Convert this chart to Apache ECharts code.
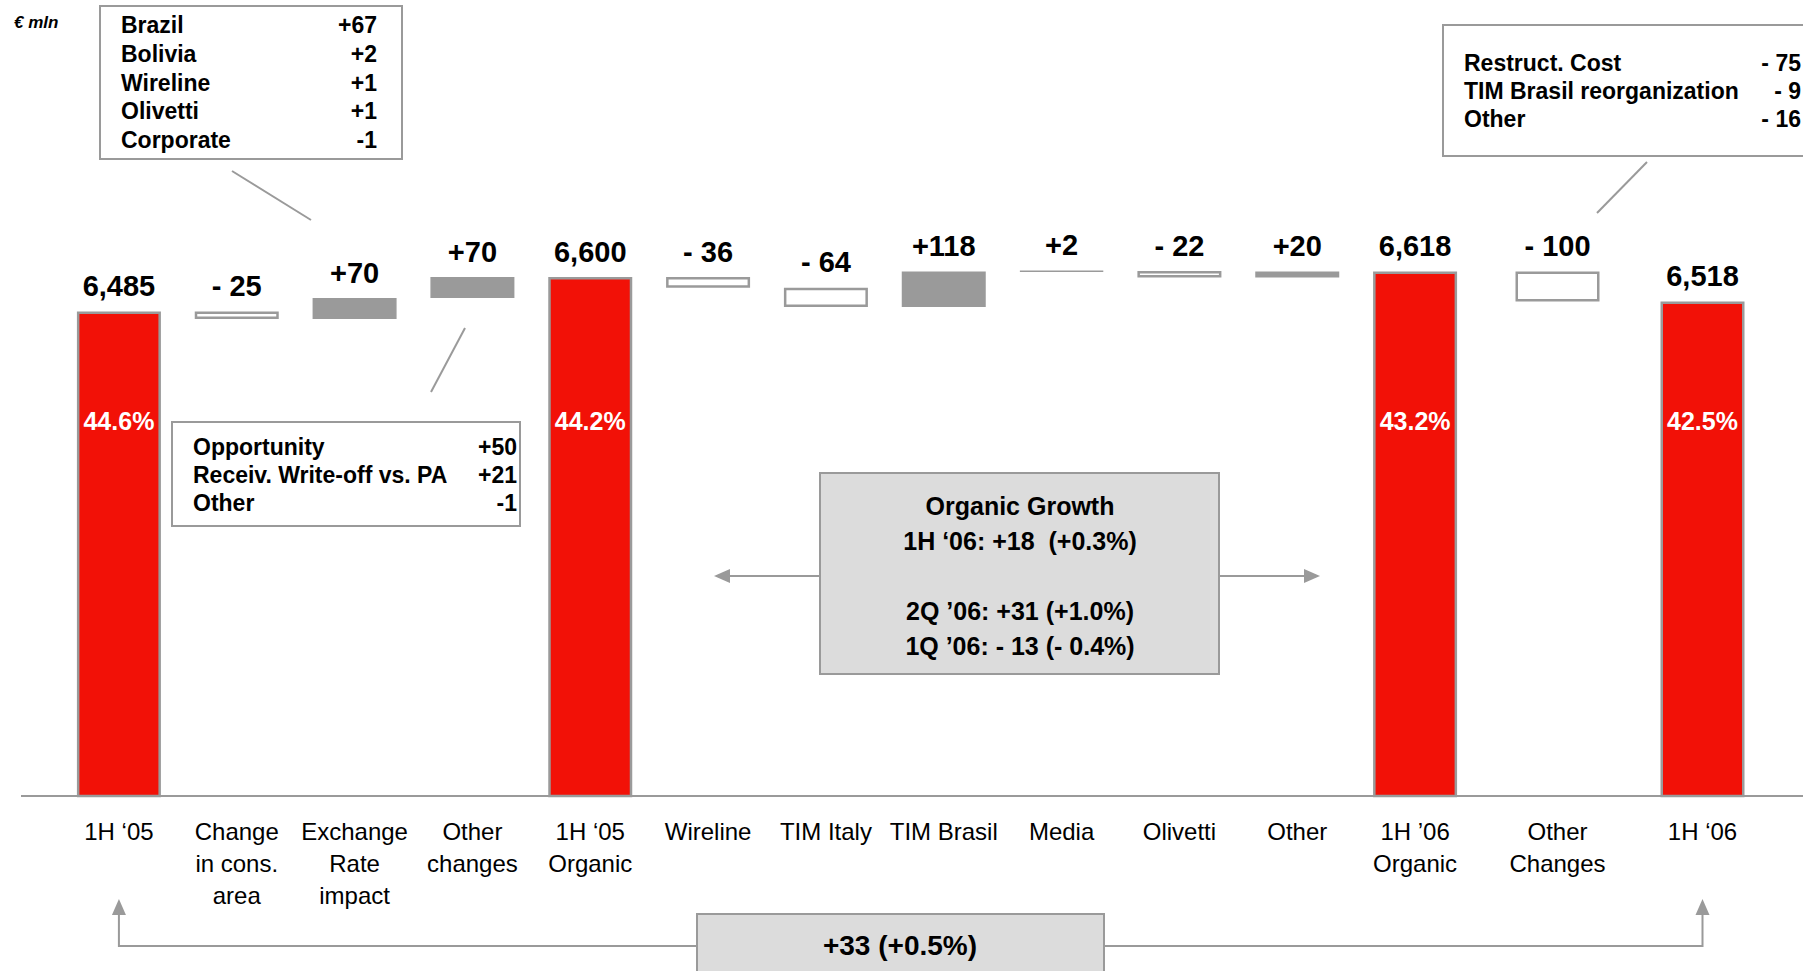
<!DOCTYPE html>
<html>
<head>
<meta charset="utf-8">
<script src="https://cdn.jsdelivr.net/npm/echarts@6/dist/echarts.min.js"></script>
<style>
html,body{margin:0;padding:0;background:#fff;}
#c{width:1803px;height:971px;}
</style>
</head>
<body>
<div id="c"></div>
<script>
// ---- data ----
const categories = ['1H ‘05', 'Change\nin cons.\narea', 'Exchange\nRate\nimpact', 'Other\nchanges', '1H ‘05\nOrganic',
  'Wireline', 'TIM Italy', 'TIM Brasil', 'Media', 'Olivetti', 'Other', '1H ’06\nOrganic', 'Other\nChanges', '1H ‘06'];
const values = [6485, -25, 70, 70, 6600, -36, -64, 118, 2, -22, 20, 6618, -100, 6518];
const isTotal = [true, false, false, false, true, false, false, false, false, false, false, true, false, true];
const valueLabels = ['6,485', '- 25', '+70', '+70', '6,600', '- 36', '- 64', '+118', '+2', '- 22', '+20', '6,618', '- 100', '6,518'];
const marginLabels = ['44.6%', '', '', '', '44.2%', '', '', '', '', '', '', '43.2%', '', '42.5%'];
const consAreaItems = ['Brazil', 'Bolivia', 'Wireline', 'Olivetti', 'Corporate'];
const consAreaValues = ['+67', '+2', '+1', '+1', '-1'];
const otherChangesItems = ['Opportunity', 'Receiv. Write-off vs. PA', 'Other'];
const otherChangesValues = ['+50', '+21', '-1'];
const otherChanges06Items = ['Restruct. Cost', 'TIM Brasil reorganization', 'Other'];
const otherChanges06Values = ['- 75', '- 9', '- 16'];
const organicLines = ['Organic Growth', '1H ‘06: +18  (+0.3%)', '', '2Q ’06: +31 (+1.0%)', '1Q ’06: - 13 (- 0.4%)'];
const totalGrowthLabel = '+33 (+0.5%)';
const unitLabel = '€ mln';
// the slide spaces the last two columns wider than the first twelve
const splitAt = 12;

// ---- styles ----
const RED = '#f21107';
const GREY = '#9a9a9a';
const FONT = '"Liberation Sans", Arial, sans-serif';
const Y_MIN = 4870, Y_MAX = 7000;

// ---- waterfall build ----
let running = 0;
const baseData = [], deltaData = [], totalData = [];
values.forEach((v, i) => {
  if (isTotal[i]) {
    running = v;
    baseData.push('-'); deltaData.push('-'); totalData.push(v);
  } else {
    const next = running + v;
    baseData.push(Math.min(running, next));
    deltaData.push({
      value: Math.abs(v),
      itemStyle: v >= 0
        ? { color: GREY, borderColor: GREY, borderWidth: 1.5 }
        : { color: '#ffffff', borderColor: GREY, borderWidth: 2.5 }
    });
    totalData.push('-');
    running = next;
  }
});

const chart = echarts.init(document.getElementById('c'), null, { renderer: 'svg' });

function makeSeries(k, start, end) {
  const lbl = {
    show: true, position: 'top', distance: 11, color: '#000',
    fontFamily: FONT, fontWeight: 'bold', fontSize: 29,
    formatter: p => valueLabels[start + p.dataIndex]
  };
  return [
    { type: 'bar', xAxisIndex: k, yAxisIndex: k, stack: 'wf' + k, data: baseData.slice(start, end), barWidth: 84, silent: true,
      itemStyle: { color: 'rgba(0,0,0,0)' } },
    { type: 'bar', xAxisIndex: k, yAxisIndex: k, stack: 'wf' + k, data: deltaData.slice(start, end), barWidth: 84, label: lbl },
    { type: 'bar', xAxisIndex: k, yAxisIndex: k, data: totalData.slice(start, end), barWidth: 84, barGap: '-100%',
      itemStyle: { color: RED, borderColor: GREY, borderWidth: 2.5 }, label: lbl }
  ];
}
const xAxisCommon = {
  type: 'category',
  axisLine: { show: false }, axisTick: { show: false },
  axisLabel: { interval: 0, fontFamily: FONT, fontSize: 24, lineHeight: 32, color: '#000', margin: 19 }
};
const yAxisCommon = { type: 'value', min: Y_MIN, max: Y_MAX, show: false, splitLine: { show: false } };

chart.setOption({
  animation: false,
  backgroundColor: '#fff',
  grid: [
    { left: 60, width: 1414, top: 157, bottom: 175 },
    { left: 1485, width: 290, top: 157, bottom: 175 }
  ],
  xAxis: [
    Object.assign({ gridIndex: 0, data: categories.slice(0, splitAt) }, xAxisCommon),
    Object.assign({ gridIndex: 1, data: categories.slice(splitAt) }, xAxisCommon)
  ],
  yAxis: [Object.assign({ gridIndex: 0 }, yAxisCommon), Object.assign({ gridIndex: 1 }, yAxisCommon)],
  series: makeSeries(0, 0, splitAt).concat(makeSeries(1, splitAt, categories.length))
});

const xPix = i => i < splitAt
  ? chart.convertToPixel({ xAxisIndex: 0 }, i)
  : chart.convertToPixel({ xAxisIndex: 1 }, i - splitAt);

// ---- annotations ----
const g = [];
const line = (x1, y1, x2, y2) => g.push({ type: 'line', shape: { x1, y1, x2, y2 }, style: { stroke: GREY, lineWidth: 2 }, z: 10 });
const text = (t, x, y, font, align, fill) => g.push({ type: 'text', style: { text: t, x, y, font, align: align || 'left', verticalAlign: 'middle', fill: fill || '#000' }, z: 11 });
const rect = (x, y, w, h, fill) => g.push({ type: 'rect', shape: { x, y, width: w, height: h }, style: { fill: fill || '#fff', stroke: GREY, lineWidth: 2 }, z: 9 });
const tri = (pts) => g.push({ type: 'polygon', shape: { points: pts }, style: { fill: GREY }, z: 10 });

const y0 = chart.convertToPixel({ yAxisIndex: 0 }, Y_MIN);
line(21, y0, 1803, y0);

// margin % labels in red bars
marginLabels.forEach((m, i) => {
  if (!m) return;
  text(m, xPix(i), 421, 'bold 25px ' + FONT, 'center', '#fff');
});

text(unitLabel, 14, 22, 'italic bold 17px ' + FONT, 'left');

const BOXF = 'bold 23px ' + FONT;
// box: change in consolidation area
rect(100, 6, 302, 153);
consAreaItems.forEach((t, k) => {
  text(t, 121, 25 + k * 28.8, BOXF, 'left');
  text(consAreaValues[k], 377, 25 + k * 28.8, BOXF, 'right');
});
line(232, 171, 311, 220);

// box: other changes
rect(172, 422, 348, 104);
otherChangesItems.forEach((t, k) => {
  text(t, 193, 447 + k * 28.2, BOXF, 'left');
  text(otherChangesValues[k], 517, 447 + k * 28.2, BOXF, 'right');
});
line(465, 328, 431, 392);

// box: other changes 1H'06
rect(1443, 25, 420, 131);
otherChanges06Items.forEach((t, k) => {
  text(t, 1464, 63 + k * 28, BOXF, 'left');
  text(otherChanges06Values[k], 1801, 63 + k * 28, BOXF, 'right');
});
line(1647, 162, 1597, 213);

// organic growth box + arrows
rect(820, 473, 399, 201, '#dcdcdc');
organicLines.forEach((t, k) => {
  if (t) text(t, 1020, 506 + k * 35, 'bold 25px ' + FONT, 'center');
});
line(820, 576, 728, 576); tri([[714, 576], [730, 569], [730, 583]]);
line(1219, 576, 1306, 576); tri([[1320, 576], [1304, 569], [1304, 583]]);

// total growth box + bracket arrows
const xa = xPix(0);
const xb = xPix(categories.length - 1);
rect(697, 914, 407, 80, '#dcdcdc');
text(totalGrowthLabel, 900, 945, 'bold 28px ' + FONT, 'center');
g.push({ type: 'polyline', shape: { points: [[697, 946], [xa, 946], [xa, 912]] }, style: { stroke: GREY, lineWidth: 2, fill: null }, z: 10 });
g.push({ type: 'polyline', shape: { points: [[1104, 946], [xb, 946], [xb, 912]] }, style: { stroke: GREY, lineWidth: 2, fill: null }, z: 10 });
tri([[xa, 899], [xa - 7, 915], [xa + 7, 915]]);
tri([[xb, 899], [xb - 7, 915], [xb + 7, 915]]);

chart.setOption({ graphic: g });
</script>
</body>
</html>
